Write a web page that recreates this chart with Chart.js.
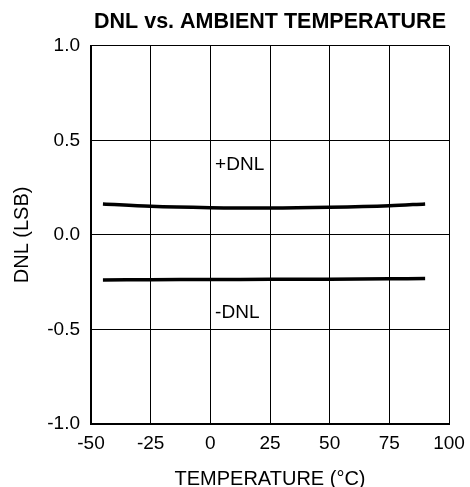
<!DOCTYPE html>
<html>
<head>
<meta charset="utf-8">
<script src="https://cdn.jsdelivr.net/npm/chart.js@4/dist/chart.umd.min.js"></script>
<style>
  html, body { margin: 0; padding: 0; background: #fff; }
  #wrap { width: 470px; height: 487px; }
</style>
</head>
<body>
<div id="wrap"><canvas id="chart" width="470" height="487"></canvas></div>
<script>
// data
const temps = [-45, -25, 0, 25, 50, 75, 90];
const dnlPlus = [0.164, 0.151, 0.144, 0.142, 0.146, 0.154, 0.164];
const dnlMinus = [-0.238, -0.237, -0.236, -0.235, -0.234, -0.232, -0.231];
const xTicks = [-50, -25, 0, 25, 50, 75, 100];
const yTicks = [-1.0, -0.5, 0.0, 0.5, 1.0];

// labels written in the plot
const notes = [
  { text: '+DNL', x: 2, y: 0.37 },
  { text: '-DNL', x: 2, y: -0.41 }
];

const FONT = 'Liberation Sans, Arial, sans-serif';

const notePlugin = {
  id: 'notes',
  afterDatasetsDraw(chart) {
    const ctx = chart.ctx;
    const xs = chart.scales.x, ys = chart.scales.y;
    ctx.save();
    ctx.font = '19px ' + FONT;
    ctx.fillStyle = '#000';
    ctx.textAlign = 'left';
    ctx.textBaseline = 'middle';
    notes.forEach(n => {
      ctx.fillText(n.text, xs.getPixelForValue(n.x), ys.getPixelForValue(n.y));
    });
    ctx.restore();
  }
};

const toPts = (xv, yv) => xv.map((t, i) => ({ x: t, y: yv[i] }));

new Chart(document.getElementById('chart').getContext('2d'), {
  type: 'line',
  data: {
    datasets: [
      { label: '+DNL', data: toPts(temps, dnlPlus), borderColor: '#000', borderWidth: 3.5,
        pointRadius: 0, tension: 0.35, fill: false },
      { label: '-DNL', data: toPts(temps, dnlMinus), borderColor: '#000', borderWidth: 3.5,
        pointRadius: 0, tension: 0.35, fill: false }
    ]
  },
  options: {
    responsive: false,
    animation: false,
    layout: { padding: { left: 0, right: 21, top: 0, bottom: 0 } },
    plugins: {
      legend: { display: false },
      tooltip: { enabled: false },
      title: {
        display: true,
        fullSize: false,
        text: 'DNL vs. AMBIENT TEMPERATURE',
        color: '#000',
        font: { family: FONT, size: 21.5, weight: 'bold' },
        padding: { top: 9, bottom: 11 },
        align: 'center'
      }
    },
    scales: {
      x: {
        type: 'linear',
        min: -50, max: 100,
        afterBuildTicks: s => { s.ticks = xTicks.map(v => ({ value: v })); },
        afterFit: s => { s.height = 63; s.paddingLeft = 0; s.paddingRight = 0; },
        grid: { color: '#000', lineWidth: 1, drawTicks: false },
        border: { color: '#000', width: 2 },
        ticks: { color: '#000', font: { family: FONT, size: 19 }, padding: 8, maxRotation: 0 },
        title: { display: true, text: 'TEMPERATURE (°C)', color: '#000',
          font: { family: FONT, size: 20 }, padding: { top: 0, bottom: -4 } }
      },
      y: {
        min: -1, max: 1,
        afterBuildTicks: s => { s.ticks = yTicks.map(v => ({ value: v })); },
        afterFit: s => { s.width = 91; },
        grid: { color: '#000', lineWidth: 1, drawTicks: false },
        border: { color: '#000', width: 2 },
        ticks: { color: '#000', font: { family: FONT, size: 19 }, padding: 11,
          callback: v => v.toFixed(1) },
        title: { display: true, text: 'DNL (LSB)', color: '#000',
          font: { family: FONT, size: 20 }, padding: { top: 10, bottom: 0 } }
      }
    }
  },
  plugins: [notePlugin]
});
</script>
</body>
</html>
